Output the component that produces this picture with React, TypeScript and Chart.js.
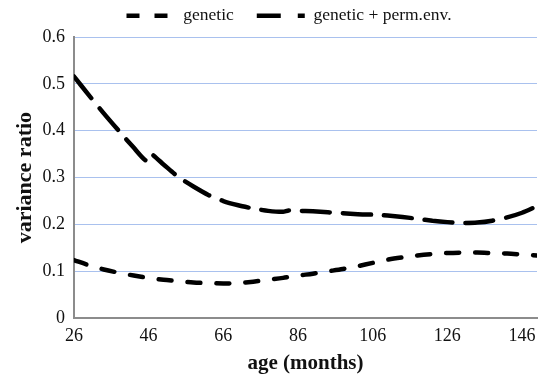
import React, { useEffect, useRef } from "react";
import { Chart, registerables } from "chart.js";

Chart.register(...registerables);

const geneticAges = [26, 30, 34, 38, 42, 46, 50, 54, 58, 62, 66, 70, 74, 78, 82, 86, 90, 94, 98, 102, 106, 110, 114, 118, 122, 126, 130, 134, 138, 142, 146, 150];
const geneticValues = [0.124, 0.113, 0.104, 0.097, 0.091, 0.086, 0.082, 0.079, 0.076, 0.075, 0.074, 0.075, 0.078, 0.082, 0.086, 0.091, 0.095, 0.1, 0.105, 0.111, 0.118, 0.125, 0.13, 0.134, 0.137, 0.139, 0.14, 0.14, 0.139, 0.138, 0.136, 0.134];

const permAges = [26, 30, 34, 38, 42, 45.2, 46.4, 50, 54, 58, 62, 66, 70, 74, 78, 82, 83.5, 86, 90, 94, 98, 102, 106, 110, 114, 118, 122, 126, 130, 134, 138, 142, 146, 150];
const permValues = [0.516, 0.476, 0.437, 0.4, 0.364, 0.337, 0.352, 0.328, 0.301, 0.281, 0.263, 0.25, 0.241, 0.234, 0.229, 0.227, 0.23, 0.229, 0.228, 0.226, 0.224, 0.222, 0.221, 0.219, 0.216, 0.212, 0.208, 0.205, 0.203, 0.204, 0.208, 0.215, 0.225, 0.239];

const xTickValues = [26, 46, 66, 86, 106, 126, 146];
const yTickValues = [0, 0.1, 0.2, 0.3, 0.4, 0.5, 0.6];

const seriesLabels = ["genetic", "genetic + perm.env."];

const SERIF = "'Liberation Serif', 'Times New Roman', serif";

const legendShift = {
  id: "legendShift",
  afterLayout(chart: any) {
    const lg = chart.legend;
    if (lg) {
      lg.left += 16.5;
      lg.right += 16.5;
      lg.top -= 2.5;
      lg.bottom -= 2.5;
    }
  },
};

export default function App() {
  const canvasRef = useRef<HTMLCanvasElement | null>(null);

  useEffect(() => {
    if (!canvasRef.current) return;
    const legendDashes = [
      [13, 15],
      [24, 17, 8, 100],
    ];
    const chart = new Chart(canvasRef.current, {
      type: "line",
      data: {
        datasets: [
          {
            label: seriesLabels[0],
            data: geneticAges.map((a, i) => ({ x: a, y: geneticValues[i] })),
            borderColor: "#000",
            backgroundColor: "#000",
            borderWidth: 4.5,
            borderDash: [13, 16],
            borderCapStyle: "round",
            pointRadius: 0,
            tension: 0.3,
            fill: false,
          },
          {
            label: seriesLabels[1],
            data: permAges.map((a, i) => ({ x: a, y: permValues[i] })),
            borderColor: "#000",
            backgroundColor: "#000",
            borderWidth: 4.5,
            borderDash: [28, 13],
            borderCapStyle: "round",
            pointRadius: 0,
            tension: 0.2,
            fill: false,
          },
        ],
      },
      options: {
        animation: false,
        responsive: false,
        layout: { padding: { left: 8, right: 9, top: -13.5, bottom: -2 } },
        plugins: {
          tooltip: { enabled: false },
          legend: {
            position: "top",
            labels: {
              usePointStyle: true,
              pointStyle: "line",
              pointStyleWidth: 48,
              padding: 23,
              color: "#111",
              font: { family: SERIF, size: 17.5 },
              generateLabels: (c: any) => {
                const items = (Chart.defaults.plugins.legend.labels as any).generateLabels(c);
                items.forEach((it: any, i: number) => {
                  it.lineDash = legendDashes[i];
                  it.lineCap = "butt";
                  it.pointStyle = "line";
                });
                return items;
              },
            },
          },
        },
        scales: {
          x: {
            type: "linear",
            min: 26,
            max: 150,
            afterBuildTicks: (axis: any) => {
              axis.ticks = xTickValues.map((v) => ({ value: v }));
            },
            grid: { display: false, drawTicks: false },
            border: { display: true, color: "#8c8c8c", width: 2 },
            ticks: {
              color: "#111",
              padding: 7,
              maxRotation: 0,
              autoSkip: false,
              font: { family: SERIF, size: 18 },
              callback: (v: any) => String(v),
            },
            title: {
              display: true,
              text: "age (months)",
              color: "#111",
              padding: { top: -3, bottom: 0 },
              font: { family: SERIF, size: 21, weight: "bold" },
            },
          },
          y: {
            type: "linear",
            min: 0,
            max: 0.6,
            afterBuildTicks: (axis: any) => {
              axis.ticks = yTickValues.map((v) => ({ value: v }));
            },
            grid: { color: "#a9c1ee", lineWidth: 1, drawTicks: false },
            border: { display: true, color: "#8c8c8c", width: 2 },
            ticks: {
              color: "#111",
              padding: 9,
              font: { family: SERIF, size: 18 },
              callback: (v: any) => (Number(v) === 0 ? "0" : Number(v).toFixed(1)),
            },
            title: {
              display: true,
              text: "variance ratio",
              color: "#111",
              padding: { top: 4, bottom: -5 },
              font: { family: SERIF, size: 22, weight: "bold" },
            },
          },
        },
      },
      plugins: [legendShift],
    } as any);
    return () => chart.destroy();
  }, []);

  return (
    <div style={{ position: "fixed", left: 0, top: 0, width: 546, height: 374, background: "#fff" }}>
      <canvas ref={canvasRef} width={546} height={374} style={{ display: "block" }} />
    </div>
  );
}
